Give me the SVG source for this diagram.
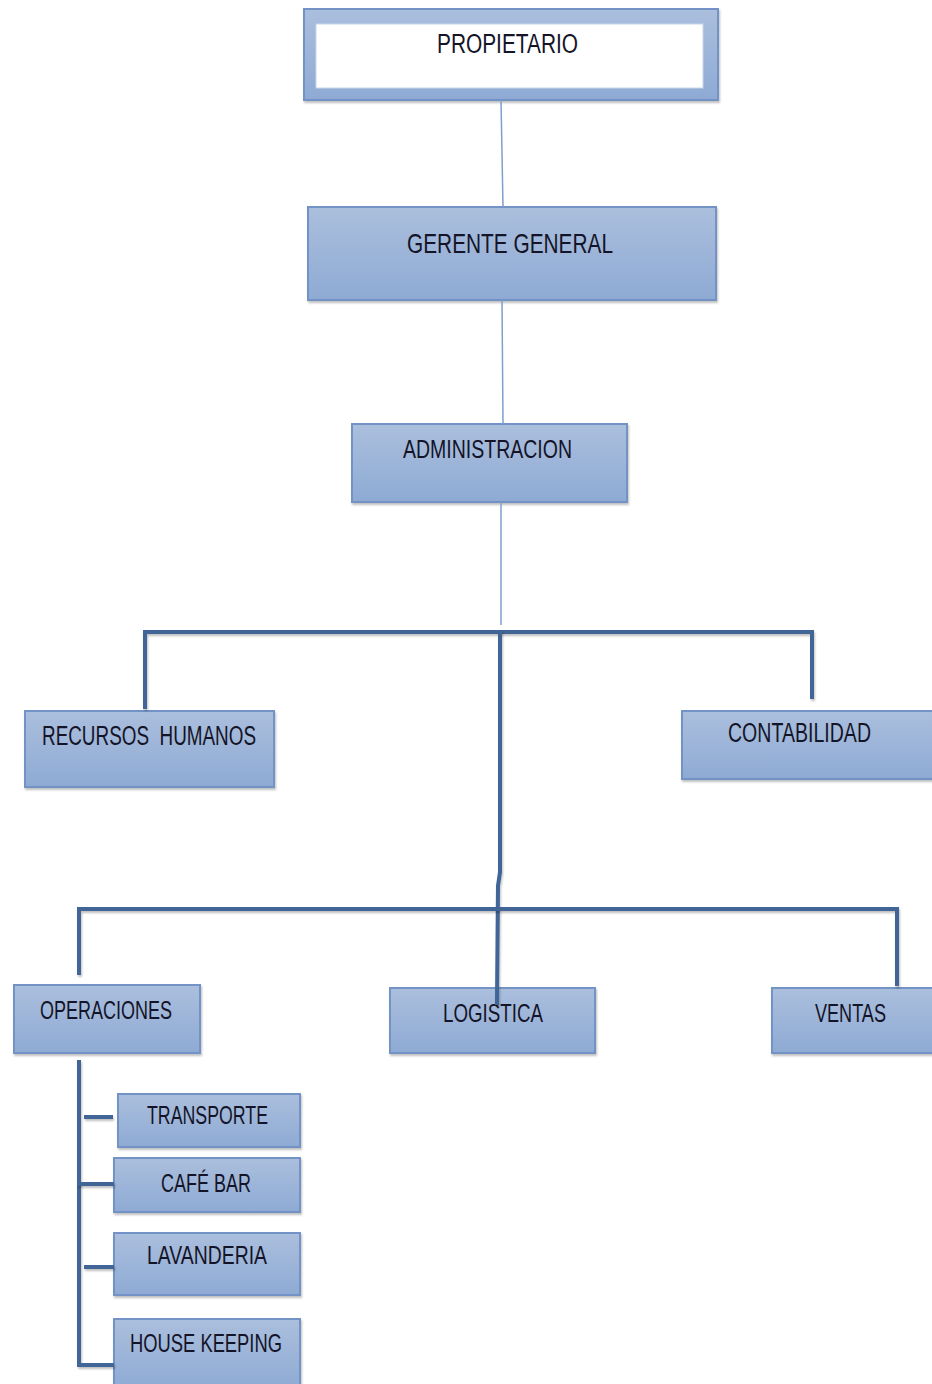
<svg xmlns="http://www.w3.org/2000/svg" width="932" height="1384" viewBox="0 0 932 1384">
<defs>
<linearGradient id="g" x1="0" y1="0" x2="0" y2="1">
<stop offset="0" stop-color="#abbfdd"/>
<stop offset="1" stop-color="#8eaad4"/>
</linearGradient>
<filter id="sh" filterUnits="userSpaceOnUse" x="0" y="0" width="932" height="1384">
<feDropShadow dx="1" dy="2" stdDeviation="1.2" flood-color="#000" flood-opacity="0.25"/>
</filter>
</defs>
<style>
.box{fill:url(#g);stroke:#7393c6;stroke-width:2;filter:url(#sh)}
.t{font-family:"Liberation Sans",Arial,sans-serif;fill:#141428;text-anchor:middle;white-space:pre}
.thin{stroke:#7f9fcc;stroke-width:1.5;fill:none}
.thick{stroke:#3f6596;stroke-width:4;fill:none;stroke-linecap:square;filter:url(#sh)}
</style>
<rect width="932" height="1384" fill="#fff"/>
<g id="propietario">
<rect class="box" x="304" y="9" width="414" height="91"/>
<rect x="316" y="24" width="387" height="64" fill="#fff" stroke="#c9d6ea" stroke-width="1"/>
<text class="t" x="507.5" y="53" font-size="27" textLength="141" lengthAdjust="spacingAndGlyphs">PROPIETARIO</text>
</g>
<g id="gerente">
<rect class="box" x="308" y="207" width="408" height="93"/>
<text class="t" x="510" y="253" font-size="28" textLength="206" lengthAdjust="spacingAndGlyphs">GERENTE GENERAL</text>
</g>
<g id="administracion">
<rect class="box" x="352" y="424" width="275" height="78"/>
<text class="t" x="487.5" y="458" font-size="26" textLength="169" lengthAdjust="spacingAndGlyphs">ADMINISTRACION</text>
</g>
<g id="rrhh">
<rect class="box" x="25" y="711" width="249" height="76"/>
<text class="t" x="149" y="745" font-size="27" textLength="214" lengthAdjust="spacingAndGlyphs" xml:space="preserve">RECURSOS  HUMANOS</text>
</g>
<g id="contabilidad">
<rect class="box" x="682" y="711" width="252" height="68"/>
<text class="t" x="799.5" y="742" font-size="27" textLength="143" lengthAdjust="spacingAndGlyphs">CONTABILIDAD</text>
</g>
<g id="operaciones">
<rect class="box" x="14" y="985" width="186" height="68"/>
<text class="t" x="106" y="1019" font-size="26" textLength="132" lengthAdjust="spacingAndGlyphs">OPERACIONES</text>
</g>
<g id="logistica">
<rect class="box" x="390" y="988" width="205" height="65"/>
<text class="t" x="493" y="1022" font-size="26" textLength="100" lengthAdjust="spacingAndGlyphs">LOGISTICA</text>
</g>
<g id="ventas">
<rect class="box" x="772" y="988" width="162" height="65"/>
<text class="t" x="850.5" y="1022" font-size="26" textLength="71" lengthAdjust="spacingAndGlyphs">VENTAS</text>
</g>
<g id="transporte">
<rect class="box" x="118" y="1094" width="182" height="53"/>
<text class="t" x="207.5" y="1124" font-size="25" textLength="121" lengthAdjust="spacingAndGlyphs">TRANSPORTE</text>
</g>
<g id="cafebar">
<rect class="box" x="114" y="1158" width="186" height="54"/>
<text class="t" x="206" y="1192" font-size="25" textLength="90" lengthAdjust="spacingAndGlyphs">CAFÉ BAR</text>
</g>
<g id="lavanderia">
<rect class="box" x="114" y="1233" width="186" height="62"/>
<text class="t" x="207" y="1264" font-size="25" textLength="120" lengthAdjust="spacingAndGlyphs">LAVANDERIA</text>
</g>
<g id="housekeeping">
<rect class="box" x="114" y="1319" width="186" height="70"/>
<text class="t" x="206" y="1352" font-size="25" textLength="152" lengthAdjust="spacingAndGlyphs">HOUSE KEEPING</text>
</g>
<g id="connectors">
<path class="thin" d="M501 100 L503 207"/>
<path class="thin" d="M502 300 L503 424"/>
<path class="thin" d="M501 502 L501 625"/>
<path class="thick" d="M145 707 L145 632 L812 632 L812 697"/>
<path class="thick" d="M500 632 L500 872 L498 886 L497 1003"/>
<path class="thick" d="M79 973 L79 909 L897 909 L897 984"/>
<path class="thick" d="M79 1062 L79 1365 L112 1365"/>
<path class="thick" d="M86 1117 L111 1117"/>
<path class="thick" d="M79 1184 L112 1184"/>
<path class="thick" d="M86 1267 L112 1267"/>
</g>
</svg>
